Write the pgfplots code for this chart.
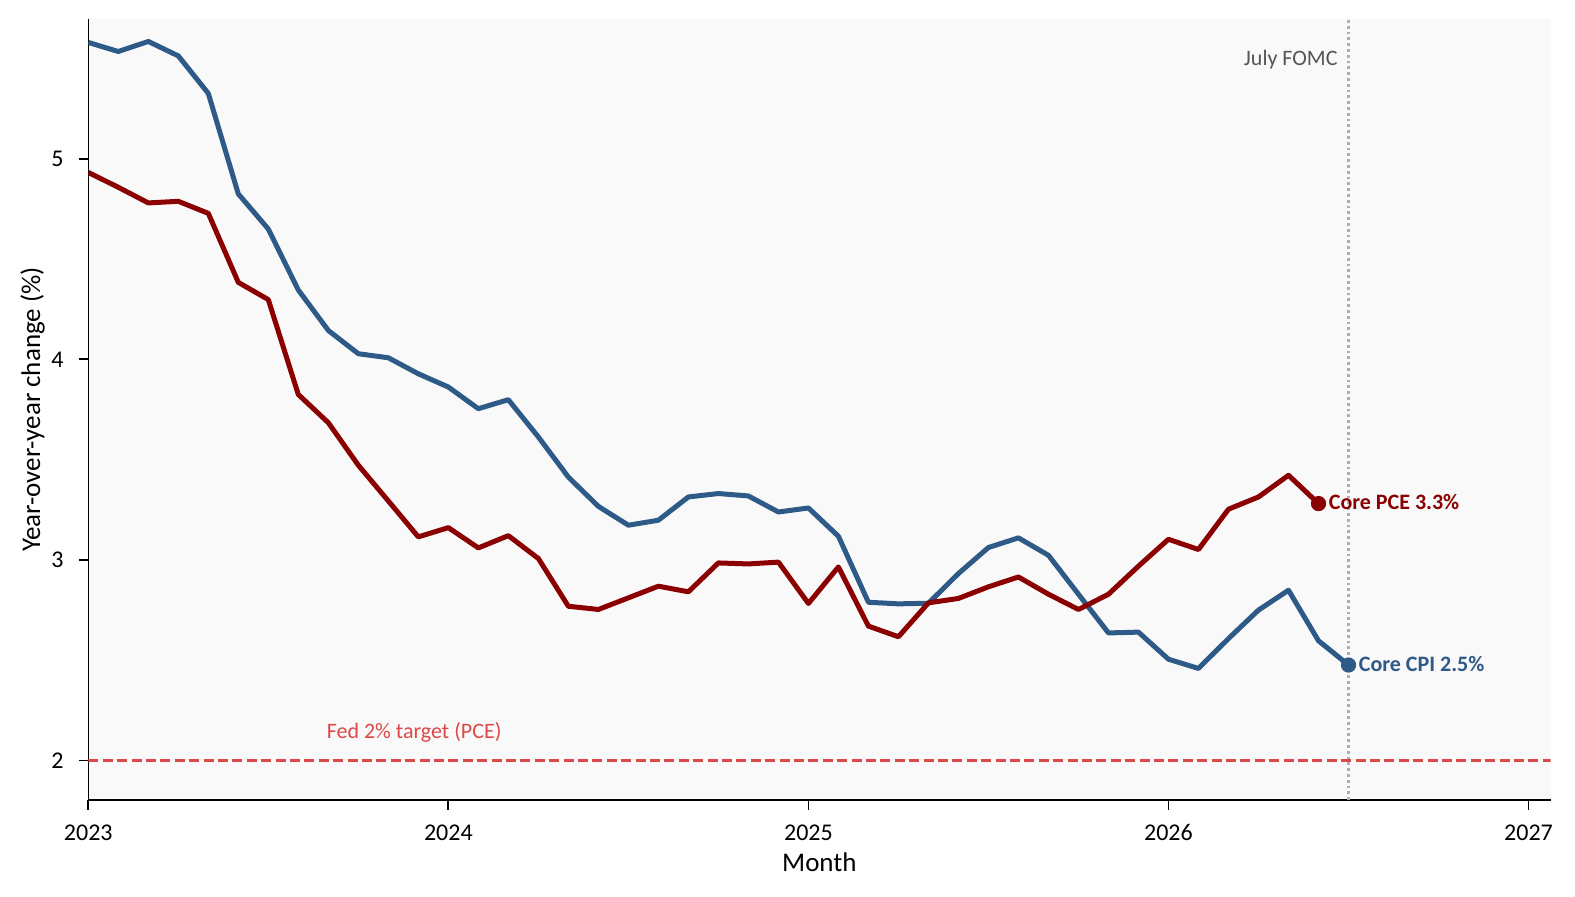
\documentclass[border=0pt]{standalone}
\usepackage{pgfplots}
\pgfplotsset{compat=1.18}
\usepackage{pgfplotstable}
\usepackage{fontspec}
\setmainfont{Carlito}
\definecolor{cpiblue}{RGB}{46,90,136}
\definecolor{pcered}{RGB}{139,0,0}
\definecolor{tgtred}{RGB}{221,72,72}
\definecolor{bgcol}{RGB}{249,249,249}
\definecolor{vgray}{RGB}{175,175,175}
\definecolor{txtgray}{RGB}{85,85,85}

\pgfplotstableread{
m v
0 5.580
1 5.535
2 5.585
3 5.513
4 5.326
5 4.825
6 4.650
7 4.346
8 4.144
9 4.028
10 4.008
11 3.928
12 3.862
13 3.754
14 3.799
15 3.613
16 3.413
17 3.267
18 3.173
19 3.198
20 3.314
21 3.331
22 3.319
23 3.239
24 3.259
25 3.118
26 2.789
27 2.781
28 2.784
29 2.932
30 3.062
31 3.110
32 3.023
33 2.829
34 2.636
35 2.640
36 2.505
37 2.459
38 2.608
39 2.750
40 2.849
41 2.597
42 2.476
}\cpi

\pgfplotstableread{
m v
0 4.932
1 4.858
2 4.780
3 4.788
4 4.728
5 4.384
6 4.298
7 3.825
8 3.684
9 3.472
10 3.294
11 3.115
12 3.161
13 3.060
14 3.121
15 3.007
16 2.769
17 2.753
18 2.811
19 2.869
20 2.841
21 2.985
22 2.980
23 2.989
24 2.783
25 2.965
26 2.670
27 2.617
28 2.786
29 2.808
30 2.866
31 2.915
32 2.829
33 2.753
34 2.829
35 2.969
36 3.103
37 3.052
38 3.253
39 3.314
40 3.422
41 3.281
}\pce

\begin{document}
\begin{tikzpicture}
\begin{axis}[name=ax, scale only axis, width=731.1pt, height=390.5pt,
 xmin=2023, xmax=2027.061, ymin=1.803, ymax=5.697,
 axis x line*=bottom, axis y line*=left,
 axis line style={black, line width=0.65pt},
 axis background/.style={fill=bgcol},
 xtick={2023,2024,2025,2026,2027}, ytick={2,3,4,5},
 xticklabels={2023,2024,2025,2026,2027},
 tick align=outside, major tick length=4.8pt,
 every tick/.style={black, line width=0.9pt},
 /pgf/number format/assume math mode=true,
 tick label style={font=\fontsize{12}{14}\selectfont},
 xticklabel style={yshift=-4pt},
 yticklabel style={xshift=-4pt},
 xlabel={Month}, ylabel={Year-over-year change (\%)},
 every axis x label/.style={at={(axis description cs:0.5,-0.0919)}, anchor=base, font=\fontsize{13.5}{16}\selectfont},
 every axis y label/.style={at={(axis description cs:-0.0330,0.5)}, rotate=90, anchor=base, font=\fontsize{13.5}{16}\selectfont},
]
\addplot[tgtred, line width=1.5pt, dash pattern=on 5pt off 2.2pt] coordinates {(2023,2) (2027.061,2)};
\addplot[vgray, line width=1.3pt, dash pattern=on 1.4pt off 1.5pt] coordinates {(2026.5,1.803) (2026.5,5.697)};
\addplot[cpiblue, line width=2.5pt, line join=round] table[x expr=2023+\thisrow{m}/12, y=v] {\cpi};
\addplot[pcered, line width=2.5pt, line join=round] table[x expr=2023+\thisrow{m}/12, y=v] {\pce};
\addplot[only marks, mark=*, mark size=3.6pt, cpiblue] coordinates {(2026.5,2.476)};
\addplot[only marks, mark=*, mark size=3.6pt, pcered] coordinates {(2026.4167,3.281)};
\node[anchor=base west, inner sep=0pt, xshift=5pt, yshift=-3pt, text=pcered, font=\bfseries\fontsize{11}{13}\selectfont] at (axis cs:2026.4167,3.281) {Core PCE 3.3\%};
\node[anchor=base west, inner sep=0pt, xshift=5pt, yshift=-3pt, text=cpiblue, font=\bfseries\fontsize{11}{13}\selectfont] at (axis cs:2026.5,2.476) {Core CPI 2.5\%};
\node[anchor=base east, inner sep=0pt, xshift=-5.3pt, text=txtgray, font=\fontsize{11}{13}\selectfont] at (axis cs:2026.5,5.463) {July FOMC};
\node[anchor=base, inner sep=0pt, text=tgtred, font=\fontsize{11}{13}\selectfont] at (axis cs:2023.905,2.109) {Fed 2\% target (PCE)};
\end{axis}
\pgfresetboundingbox
\path[use as bounding box] ([shift={(-44.15pt,-48pt)}]ax.south west) rectangle ([shift={(12.25pt,9.5pt)}]ax.north east);
\end{tikzpicture}
\end{document}
